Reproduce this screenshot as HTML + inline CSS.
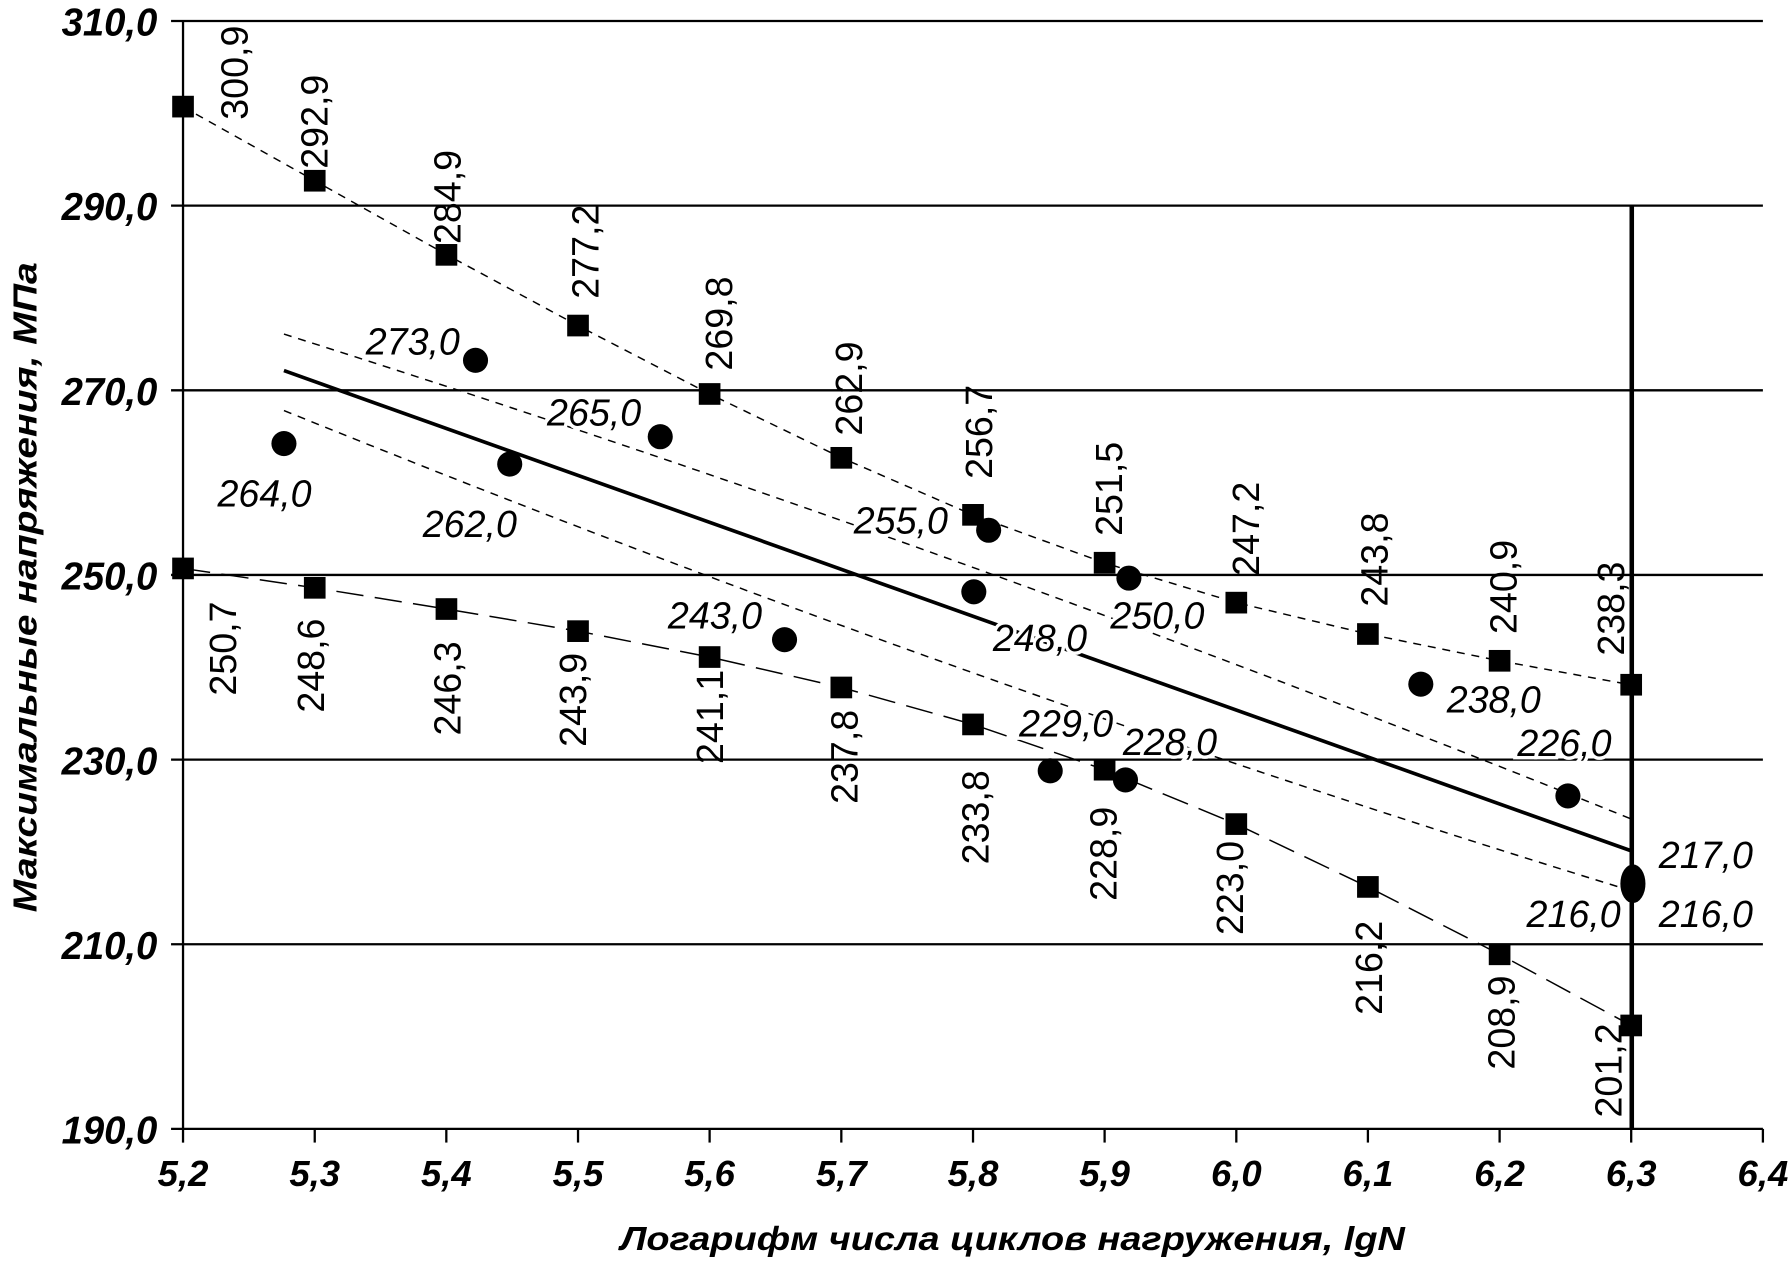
<!DOCTYPE html>
<html><head><meta charset="utf-8"><style>
html,body{margin:0;padding:0;background:#fff;}
svg{display:block}
text{font-family:"Liberation Sans",Arial,sans-serif;fill:#000}
.tk{font-size:34px;font-weight:bold;font-style:italic}
.sq{font-size:33px}
.ci{font-size:33px;font-style:italic}
</style></head><body>
<svg width="1788" height="1268" viewBox="0 0 1568 1112" xmlns="http://www.w3.org/2000/svg">
<rect width="1568" height="1112" fill="#fff"/>
<g stroke="#000" stroke-width="2">
<line x1="150" y1="18.4" x2="1546" y2="18.4"/>
<line x1="150" y1="180.3" x2="1546" y2="180.3"/>
<line x1="150" y1="342.3" x2="1546" y2="342.3"/>
<line x1="150" y1="504.2" x2="1546" y2="504.2"/>
<line x1="150" y1="666.2" x2="1546" y2="666.2"/>
<line x1="150" y1="828.1" x2="1546" y2="828.1"/>
<line x1="150" y1="990" x2="1546" y2="990"/>
<line x1="160.5" y1="18.4" x2="160.5" y2="1002"/>
<line x1="276" y1="990" x2="276" y2="1002"/>
<line x1="391.4" y1="990" x2="391.4" y2="1002"/>
<line x1="506.9" y1="990" x2="506.9" y2="1002"/>
<line x1="622.3" y1="990" x2="622.3" y2="1002"/>
<line x1="737.8" y1="990" x2="737.8" y2="1002"/>
<line x1="853.3" y1="990" x2="853.3" y2="1002"/>
<line x1="968.7" y1="990" x2="968.7" y2="1002"/>
<line x1="1084.2" y1="990" x2="1084.2" y2="1002"/>
<line x1="1199.6" y1="990" x2="1199.6" y2="1002"/>
<line x1="1315.1" y1="990" x2="1315.1" y2="1002"/>
<line x1="1430.5" y1="990" x2="1430.5" y2="1002"/>
<line x1="1546" y1="990" x2="1546" y2="1002"/>
</g>
<line x1="1431" y1="180.3" x2="1431" y2="990" stroke="#000" stroke-width="4"/>
<g class="tk" text-anchor="end">
<text x="138" y="31" textLength="84" lengthAdjust="spacingAndGlyphs">310,0</text>
<text x="138" y="193" textLength="84" lengthAdjust="spacingAndGlyphs">290,0</text>
<text x="138" y="355" textLength="84" lengthAdjust="spacingAndGlyphs">270,0</text>
<text x="138" y="517" textLength="84" lengthAdjust="spacingAndGlyphs">250,0</text>
<text x="138" y="679" textLength="84" lengthAdjust="spacingAndGlyphs">230,0</text>
<text x="138" y="841" textLength="84" lengthAdjust="spacingAndGlyphs">210,0</text>
<text x="138" y="1003" textLength="84" lengthAdjust="spacingAndGlyphs">190,0</text>
</g>
<g class="tk" text-anchor="middle" style="font-size:32px">
<text x="160.5" y="1040">5,2</text><text x="276" y="1040">5,3</text><text x="391.4" y="1040">5,4</text>
<text x="506.9" y="1040">5,5</text><text x="622.3" y="1040">5,6</text><text x="737.8" y="1040">5,7</text>
<text x="853.3" y="1040">5,8</text><text x="968.7" y="1040">5,9</text><text x="1084.2" y="1040">6,0</text>
<text x="1199.6" y="1040">6,1</text><text x="1315.1" y="1040">6,2</text><text x="1430.5" y="1040">6,3</text>
<text x="1546" y="1040">6,4</text>
</g>
<text x="888" y="1096" text-anchor="middle" style="font-size:29px;font-weight:bold;font-style:italic" textLength="688" lengthAdjust="spacingAndGlyphs">Логарифм числа циклов нагружения, lgN</text>
<text transform="translate(32,515) rotate(-90)" text-anchor="middle" style="font-size:29px;font-weight:bold;font-style:italic" textLength="570" lengthAdjust="spacingAndGlyphs">Максимальные напряжения, МПа</text>
<g fill="none" stroke="#000">
<polyline stroke-width="1.3" stroke-dasharray="7,6" points="160.5,93.7 276,158.5 391.4,223.2 506.9,285.6 622.3,345.5 737.8,401.4 853.3,451.6 968.7,493.7 1084.2,528.5 1199.6,556 1315.1,579.5 1430.5,600.6"/>
<polyline stroke-width="1.3" stroke-dasharray="24,10" points="160.5,498.5 276,515.5 391.4,534.1 506.9,553.5 622.3,576.2 737.8,602.9 853.3,635.3 968.7,675 1084.2,722.7 1199.6,777.8 1315.1,836.9 1430.5,899.3"/>
<path stroke-width="1.3" stroke-dasharray="7,6" d="M249,293 Q840,480 1430,718"/>
<path stroke-width="1.3" stroke-dasharray="7,6" d="M249,360 Q840,600 1430,781"/>
<line x1="249" y1="325" x2="1430" y2="746" stroke-width="3.2"/>
</g>
<g fill="#000">
<rect x="151" y="84" width="19" height="19"/><rect x="266.5" y="149" width="19" height="19"/><rect x="382" y="214" width="19" height="19"/>
<rect x="497.4" y="276" width="19" height="19"/><rect x="612.8" y="336" width="19" height="19"/><rect x="728.3" y="392" width="19" height="19"/>
<rect x="843.8" y="442" width="19" height="19"/><rect x="959.2" y="484" width="19" height="19"/><rect x="1074.7" y="519" width="19" height="19"/>
<rect x="1190.1" y="546.5" width="19" height="19"/><rect x="1305.6" y="570" width="19" height="19"/><rect x="1421" y="591" width="19" height="19"/>
<rect x="151" y="489" width="19" height="19"/><rect x="266.5" y="506" width="19" height="19"/><rect x="382" y="524.6" width="19" height="19"/>
<rect x="497.4" y="544" width="19" height="19"/><rect x="612.8" y="566.7" width="19" height="19"/><rect x="728.3" y="593.4" width="19" height="19"/>
<rect x="843.8" y="625.8" width="19" height="19"/><rect x="959.2" y="665.5" width="19" height="19"/><rect x="1074.7" y="713.2" width="19" height="19"/>
<rect x="1190.1" y="768.3" width="19" height="19"/><rect x="1305.6" y="827.4" width="19" height="19"/><rect x="1421" y="889.8" width="19" height="19"/>
</g>
<g class="ci" text-anchor="middle" stroke="#fff" stroke-width="6" paint-order="stroke">
<text x="232" y="444">264,0</text><text x="362" y="311">273,0</text><text x="412" y="471">262,0</text>
<text x="521" y="373">265,0</text><text x="627" y="551">243,0</text><text x="790" y="468">255,0</text>
<text x="912" y="571">248,0</text><text x="935" y="646">229,0</text><text x="1026" y="662">228,0</text>
<text x="1015" y="551">250,0</text><text x="1310" y="625">238,0</text><text x="1372" y="663">226,0</text>
<text x="1496" y="761">217,0</text><text x="1380" y="813">216,0</text><text x="1496" y="813">216,0</text>
</g>
<g fill="#000">
<circle cx="249" cy="389" r="11"/><circle cx="417" cy="316" r="11"/><circle cx="447" cy="407" r="11"/>
<circle cx="579" cy="383" r="11"/><circle cx="688" cy="561" r="11"/><circle cx="854" cy="519" r="11"/>
<circle cx="867" cy="465" r="11"/><circle cx="921" cy="676" r="11"/><circle cx="987" cy="684" r="11"/>
<circle cx="990" cy="507" r="11"/><circle cx="1246" cy="600" r="11"/><circle cx="1375" cy="698" r="11"/>
<ellipse cx="1432" cy="775" rx="11" ry="17"/>
</g>
<g class="sq">
<text transform="translate(217,105) rotate(-90)">300,9</text>
<text transform="translate(287,148) rotate(-90)">292,9</text>
<text transform="translate(404,214) rotate(-90)">284,9</text>
<text transform="translate(525,262) rotate(-90)">277,2</text>
<text transform="translate(642,325) rotate(-90)">269,8</text>
<text transform="translate(756,382) rotate(-90)">262,9</text>
<text transform="translate(870,420) rotate(-90)">256,7</text>
<text transform="translate(984,470) rotate(-90)">251,5</text>
<text transform="translate(1104,505) rotate(-90)">247,2</text>
<text transform="translate(1217,532) rotate(-90)">243,8</text>
<text transform="translate(1330,556) rotate(-90)">240,9</text>
<text transform="translate(1424,575) rotate(-90)">238,3</text>
<text transform="translate(207,610) rotate(-90)">250,7</text>
<text transform="translate(284,625) rotate(-90)">248,6</text>
<text transform="translate(404,645) rotate(-90)">246,3</text>
<text transform="translate(514,655) rotate(-90)">243,9</text>
<text transform="translate(634,670) rotate(-90)">241,1</text>
<text transform="translate(752,705) rotate(-90)">237,8</text>
<text transform="translate(867,758) rotate(-90)">233,8</text>
<text transform="translate(979,790) rotate(-90)">228,9</text>
<text transform="translate(1090,820) rotate(-90)">223,0</text>
<text transform="translate(1212,890) rotate(-90)">216,2</text>
<text transform="translate(1328,938) rotate(-90)">208,9</text>
<text transform="translate(1422,980) rotate(-90)">201,2</text>
</g>
</svg>
</body></html>
